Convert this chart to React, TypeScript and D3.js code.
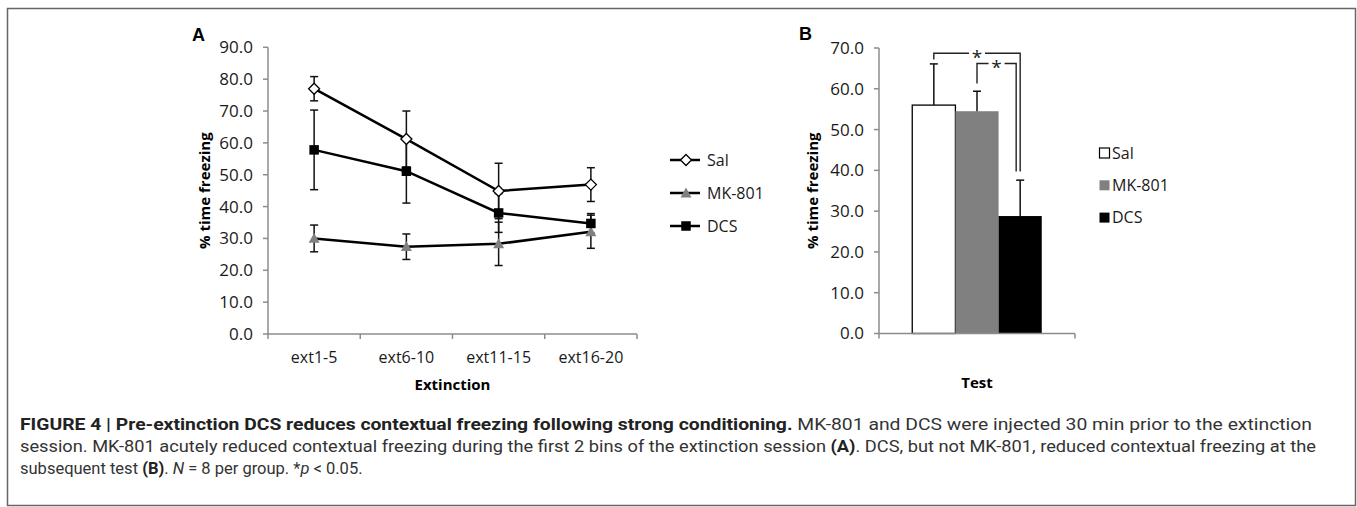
import * as d3 from 'd3';

// Panel A: extinction sessions
const extCategories = ['ext1-5', 'ext6-10', 'ext11-15', 'ext16-20'];
const salMeans = [77.0, 61.2, 44.9, 46.9];
const salErr = [3.8, 8.8, 8.7, 5.3];
const mkMeans = [30.0, 27.4, 28.3, 32.1];
const mkErr = [4.2, 4.0, 6.8, 5.2];
const dcsMeans = [57.8, 51.1, 38.0, 34.7];
const dcsErr = [12.5, 10.0, 6.1, 3.1];
const yTicksA = [0, 10, 20, 30, 40, 50, 60, 70, 80, 90];

// Panel B: test
const testGroups = ['Sal', 'MK-801', 'DCS'];
const testMeans = [56.0, 54.5, 28.8];
const testErr = [10.1, 4.9, 8.8];
const yTicksB = [0, 10, 20, 30, 40, 50, 60, 70];

// significance brackets (group index pairs, levels in % units)
const brackets = [
  { from: 0, to: 2, level: 68.7, leftEnd: 67.2, rightEnd: 39.7, rightShift: 0 },
  { from: 1, to: 2, level: 66.2, leftEnd: 61.3, rightEnd: 39.7, rightShift: -4 },
];

const captionBold = 'FIGURE 4 | Pre-extinction DCS reduces contextual freezing following strong conditioning.';
const captionLine1 = ' MK-801 and DCS were injected 30 min prior to the extinction';
const captionLine2a = 'session. MK-801 acutely reduced contextual freezing during the first 2 bins of the extinction session ';
const captionLine2b = '. DCS, but not MK-801, reduced contextual freezing at the';

const FONT = '"Open Sans", Lato, sans-serif';
const CAP_FONT = 'Roboto, "Liberation Sans", sans-serif';
const AXIS = '#8c8c8c';

function Marker({ kind, x, y }: { kind: string; x: number; y: number }) {
  if (kind === 'Sal') {
    const r = 5.5;
    return (
      <path
        d={`M${x},${y - r}L${x + r},${y}L${x},${y + r}L${x - r},${y}Z`}
        fill="#fff"
        stroke="#000"
        strokeWidth={1.3}
      />
    );
  }
  if (kind === 'MK-801') {
    const s = 5.5;
    return <path d={`M${x},${y - s}L${x + s},${y + s * 0.8}L${x - s},${y + s * 0.8}Z`} fill="#808080" />;
  }
  return <rect x={x - 4.75} y={y - 4.75} width={9.5} height={9.5} fill="#000" />;
}

function PanelA() {
  const x = d3.scaleBand().domain(extCategories).range([268, 637]).padding(0);
  const y = d3.scaleLinear().domain([0, 90]).range([334, 47.3]);
  const cx = (c: string) => (x(c) || 0) + x.bandwidth() / 2;
  const series = [
    { name: 'Sal', means: salMeans, err: salErr },
    { name: 'MK-801', means: mkMeans, err: mkErr },
    { name: 'DCS', means: dcsMeans, err: dcsErr },
  ];
  const line = d3
    .line<number>()
    .x((_, i) => cx(extCategories[i]))
    .y((d) => y(d));
  const [x0, x1] = x.range();
  const bounds = [...extCategories.map((c) => x(c) || 0), x1];

  return (
    <g fontFamily={FONT}>
      <text x={192} y={41} fontFamily="Liberation Sans, Arial, sans-serif" fontWeight="bold" fontSize={18}>
        A
      </text>
      {/* y axis */}
      <line x1={x0} x2={x0} y1={y(0)} y2={y(90)} stroke={AXIS} strokeWidth={1.5} />
      {yTicksA.map((t) => (
        <g key={t}>
          <line x1={x0 - 5} x2={x0} y1={y(t)} y2={y(t)} stroke={AXIS} strokeWidth={1.5} />
          <text x={x0 - 15} y={y(t)} dy="0.35em" textAnchor="end" fontSize={17} fill="#1a1a1a">
            {t.toFixed(1)}
          </text>
        </g>
      ))}
      {/* x axis */}
      <line x1={x0} x2={x1} y1={y(0)} y2={y(0)} stroke={AXIS} strokeWidth={1.5} />
      {bounds.map((b, i) => (
        <line key={i} x1={b} x2={b} y1={y(0)} y2={y(0) + 5} stroke={AXIS} strokeWidth={1.5} />
      ))}
      {extCategories.map((c) => (
        <text key={c} x={cx(c)} y={357} dy="0.35em" textAnchor="middle" fontSize={16} fill="#1a1a1a">
          {c}
        </text>
      ))}
      <text x={(x0 + x1) / 2} y={385} dy="0.35em" textAnchor="middle" fontSize={15} fontWeight="bold">
        Extinction
      </text>
      <text
        transform={`translate(205,${(y(0) + y(90)) / 2}) rotate(-90)`}
        textAnchor="middle"
        dy="0.35em"
        fontSize={15}
        fontWeight="bold"
      >
        % time freezing
      </text>
      {/* error bars */}
      {series.map((s) =>
        s.means.map((m, i) => {
          const px = cx(extCategories[i]);
          const hi = y(m + s.err[i]);
          const lo = y(m - s.err[i]);
          return (
            <g key={s.name + i} stroke="#111" strokeWidth={1.5}>
              <line x1={px} x2={px} y1={hi} y2={lo} />
              <line x1={px - 4} x2={px + 4} y1={hi} y2={hi} />
              <line x1={px - 4} x2={px + 4} y1={lo} y2={lo} />
            </g>
          );
        })
      )}
      {/* lines */}
      {series.map((s) => (
        <path key={s.name} d={line(s.means) || ''} fill="none" stroke="#000" strokeWidth={2.5} />
      ))}
      {/* markers */}
      {series.map((s) =>
        s.means.map((m, i) => <Marker key={s.name + i} kind={s.name} x={cx(extCategories[i])} y={y(m)} />)
      )}
      {/* legend */}
      {series.map((s, i) => {
        const ly = 160 + i * 33;
        return (
          <g key={s.name}>
            <line x1={670} x2={700} y1={ly} y2={ly} stroke="#000" strokeWidth={2.5} />
            <Marker kind={s.name} x={686} y={ly} />
            <text x={707} y={ly} dy="0.35em" fontSize={16} fill="#1a1a1a">
              {s.name}
            </text>
          </g>
        );
      })}
    </g>
  );
}

function PanelB() {
  const x = d3.scaleBand().domain(['Test']).range([879, 1075]).paddingInner(0).paddingOuter(0);
  const inner = d3
    .scaleBand()
    .domain(testGroups)
    .range([0, x.bandwidth()])
    .paddingOuter(0.77)
    .paddingInner(0);
  const y = d3.scaleLinear().domain([0, 70]).range([333.5, 48]);
  const gx = x('Test') || 0;
  const fills = ['#fff', '#808080', '#000'];
  const bx = (i: number) => gx + (inner(testGroups[i]) || 0);
  const bc = (i: number) => bx(i) + inner.bandwidth() / 2;
  const [x0, x1] = x.range();

  return (
    <g fontFamily={FONT}>
      <text x={799} y={40} fontFamily="Liberation Sans, Arial, sans-serif" fontWeight="bold" fontSize={18}>
        B
      </text>
      {/* bars */}
      {testGroups.map((g, i) => (
        <rect
          key={g}
          x={bx(i)}
          y={y(testMeans[i])}
          width={inner.bandwidth()}
          height={y(0) - y(testMeans[i])}
          fill={fills[i]}
          stroke={i === 0 ? '#000' : 'none'}
          strokeWidth={1.3}
        />
      ))}
      {/* error bars (upper only) */}
      {testGroups.map((g, i) => {
        const px = bc(i);
        const top = y(testMeans[i] + testErr[i]);
        return (
          <g key={g} stroke="#111" strokeWidth={1.5}>
            <line x1={px} x2={px} y1={y(testMeans[i])} y2={top} />
            <line x1={px - 4} x2={px + 4} y1={top} y2={top} />
          </g>
        );
      })}
      {/* axes */}
      <line x1={x0} x2={x0} y1={y(0)} y2={y(70)} stroke={AXIS} strokeWidth={1.5} />
      {yTicksB.map((t) => (
        <g key={t}>
          <line x1={x0 - 5} x2={x0} y1={y(t)} y2={y(t)} stroke={AXIS} strokeWidth={1.5} />
          <text x={x0 - 15} y={y(t)} dy="0.35em" textAnchor="end" fontSize={17} fill="#1a1a1a">
            {t.toFixed(1)}
          </text>
        </g>
      ))}
      <line x1={x0} x2={x1} y1={y(0)} y2={y(0)} stroke={AXIS} strokeWidth={1.5} />
      {[x0, x1].map((b) => (
        <line key={b} x1={b} x2={b} y1={y(0)} y2={y(0) + 5} stroke={AXIS} strokeWidth={1.5} />
      ))}
      <text x={(x0 + x1) / 2} y={383} dy="0.35em" textAnchor="middle" fontSize={15} fontWeight="bold">
        Test
      </text>
      <text
        transform={`translate(813,${(y(0) + y(70)) / 2}) rotate(-90)`}
        textAnchor="middle"
        dy="0.35em"
        fontSize={15}
        fontWeight="bold"
      >
        % time freezing
      </text>
      {/* brackets */}
      {brackets.map((b, i) => {
        const lx = bc(b.from);
        const rx = bc(b.to) + b.rightShift;
        const ly = y(b.level);
        const mid = (lx + rx) / 2;
        return (
          <g key={i}>
            <path
              d={`M${lx},${y(b.leftEnd)}V${ly}H${mid - 8}M${mid + 8},${ly}H${rx}V${y(b.rightEnd)}`}
              fill="none"
              stroke="#222"
              strokeWidth={1.4}
            />
            <text x={mid} y={ly + 11} textAnchor="middle" fontSize={19} fill="#222">
              *
            </text>
          </g>
        );
      })}
      {/* legend */}
      {testGroups.map((g, i) => {
        const ly = 153 + i * 32.3;
        return (
          <g key={g}>
            <rect
              x={1099.5}
              y={ly - 5}
              width={10}
              height={10}
              fill={fills[i]}
              stroke={i === 0 ? '#000' : 'none'}
              strokeWidth={1.2}
            />
            <text x={1112} y={ly} dy="0.35em" fontSize={16} fill="#1a1a1a">
              {g}
            </text>
          </g>
        );
      })}
    </g>
  );
}

export default function App() {
  return (
    <svg
      width={1357}
      height={507}
      style={{ position: 'absolute', left: 0, top: 0, background: '#fff' }}
    >
      <rect x={7.5} y={8.5} width={1348} height={497} fill="#fff" stroke="#666" strokeWidth={1.5} />
      <PanelA />
      <PanelB />
      <g fontFamily={CAP_FONT} fontSize={16.5} fill="#333">
        <text x={20} y={430} textLength={1292} lengthAdjust="spacingAndGlyphs">
          <tspan fontWeight="bold" fill="#222">
            {captionBold}
          </tspan>
          <tspan>{captionLine1}</tspan>
        </text>
        <text x={20} y={452} textLength={1296} lengthAdjust="spacingAndGlyphs">
          <tspan>{captionLine2a}</tspan>
          <tspan fontWeight="bold" fill="#222">
            (A)
          </tspan>
          <tspan>{captionLine2b}</tspan>
        </text>
        <text x={20} y={474}>
          <tspan>subsequent test </tspan>
          <tspan fontWeight="bold" fill="#222">
            (B)
          </tspan>
          <tspan>. </tspan>
          <tspan fontStyle="italic">N</tspan>
          <tspan> = 8 per group. *</tspan>
          <tspan fontStyle="italic">p</tspan>
          <tspan> {'<'} 0.05.</tspan>
        </text>
      </g>
    </svg>
  );
}
